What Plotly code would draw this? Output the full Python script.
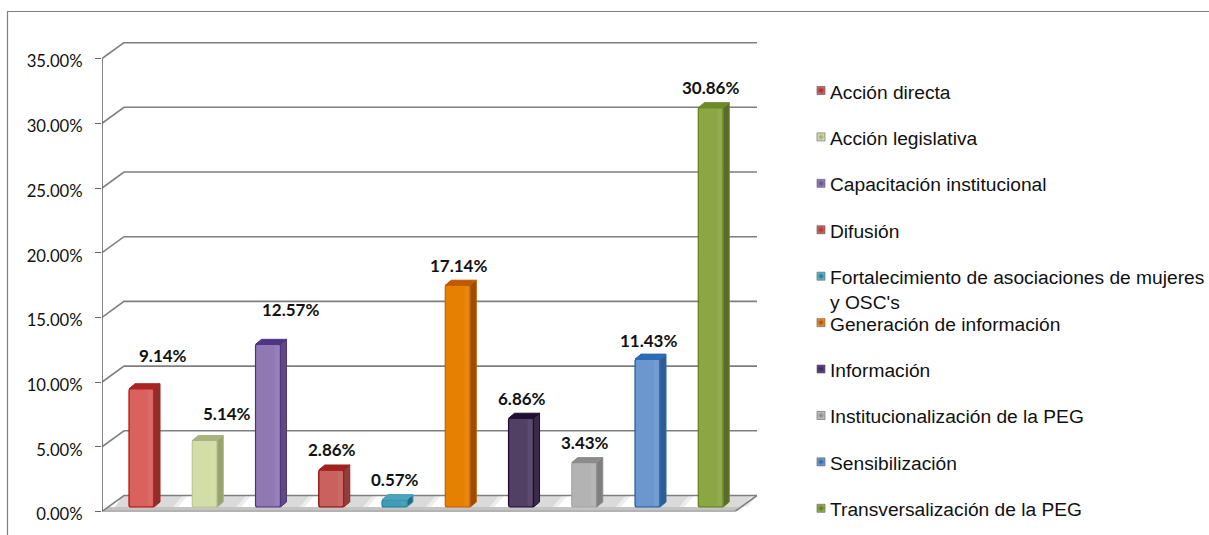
import plotly.graph_objects as go

categories = ["Acción directa", "Acción legislativa", "Capacitación institucional", "Difusión",
              "Fortalecimiento de asociaciones de mujeres<br>y OSC's", "Generación de información",
              "Información", "Institucionalización de la PEG", "Sensibilización",
              "Transversalización de la PEG"]
values = [9.14, 5.14, 12.57, 2.86, 0.57, 17.14, 6.86, 3.43, 11.43, 30.86]
tick_values = [0, 5, 10, 15, 20, 25, 30, 35]

front_colors = ["#D9625F", "#D3DDA8", "#9079B3", "#C9615F", "#3F9DB8", "#E68000", "#514063", "#B3B3B3", "#6C97CE", "#8CA646"]
edge_colors = ["#C00000", "#BBC78C", "#4B2F8E", "#8E0000", "#1F7F9A", "#C85F00", "#1F0A33", "#A6A6A6", "#1E5AA8", "#5F7E12"]
side_colors = ["#8F2E2C", "#98A36E", "#5F4A7C", "#8E3E3B", "#276A80", "#994D00", "#3A2A4B", "#7F7F7F", "#305D91", "#5A6C2B"]
top_colors = ["#A92523", "#A8B47E", "#4F3585", "#9E2320", "#4BA3BC", "#C05A00", "#1F0F30", "#8C8C8C", "#2A6CB5", "#6E8A28"]
swatch_colors = ["#E06060", "#DDE8B8", "#9A80C8", "#D86060", "#60C0D8", "#F89030", "#604090", "#C8C8C8", "#70A0E0", "#98B848"]
label_dx = [21.5, 22, 22, 1, 0, 1, 1, 1, 1, 0]
label_dy = [33.7, 27, 35, 20, 20, 20, 20, 20, 19, 20]

W, H = 1209, 535
PX_L, PX_R, PX_T, PX_B = 102, 757, 42, 511.5
SLOT = 63.25
PX_PER = 12.94
wall_dx, wall_dy = 22 / SLOT, 16 / PX_PER          # oblique offset of the back wall
x_max = (PX_R - PX_L) / SLOT
y_max = (PX_B - PX_T) / PX_PER
bar_w = 25 / SLOT
bar_base = 4.5 / PX_PER
depth_x, depth_y = 6 / SLOT, 5 / PX_PER
bar_x = [i + 0.5 + 7.9 / SLOT for i in range(len(values))]

fig = go.Figure()
shapes = []
GRID = "#7F7F7F"

def poly(pts):
    return "M" + "L".join(f"{a},{b}" for a, b in pts) + "Z"

# floor
shapes.append(dict(type="path", layer="below", xref="x", yref="y", line=dict(width=0), fillcolor="#DADADA",
                   path=poly([(0, 0), (wall_dx, wall_dy), (x_max, wall_dy), (x_max - wall_dx, 0)])))
# light diagonal streaks across the floor, between the bars
slant = 10 / SLOT
for x in bar_x:
    xr = x + bar_w / 2
    for a, b, col in [(0.30, 0.72, "#EDEDED"), (0.38, 0.64, "#FFFFFF")]:
        shapes.append(dict(type="path", layer="below", xref="x", yref="y", line=dict(width=0), fillcolor=col,
                           path=poly([(xr + a, bar_base), (xr + a + slant, wall_dy),
                                      (xr + b + slant, wall_dy), (xr + b, bar_base)])))
shapes.append(dict(type="path", layer="below", xref="x", yref="y", line=dict(width=0), fillcolor="#FFFFFF",
                   path=poly([(5 / SLOT, bar_base), (wall_dx, wall_dy), (bar_x[0] - bar_w / 2 - 6 / SLOT, wall_dy),
                              (bar_x[0] - bar_w / 2 - 14 / SLOT, bar_base)])))
shapes.append(dict(type="path", layer="below", xref="x", yref="y", line=dict(width=0), fillcolor="#C4C4C4",
                   path=poly([(2 / SLOT, 0), (x_max - wall_dx, 0), (x_max - wall_dx + 5 / SLOT, bar_base), (7 / SLOT, bar_base)])))
# grid lines on the side and back walls
for t in tick_values:
    shapes.append(dict(type="path", layer="below", xref="x", yref="y", line=dict(color=GRID, width=1.6),
                       path=f"M0,{t}L{wall_dx},{t + wall_dy}L{x_max},{t + wall_dy}"))
# floor outline and axis
shapes.append(dict(type="path", layer="below", xref="x", yref="y", line=dict(color=GRID, width=1.6),
                   path=f"M0,0L{x_max - wall_dx},0L{x_max},{wall_dy}"))
shapes.append(dict(type="line", layer="below", xref="x", yref="y", x0=0, x1=0, y0=0, y1=tick_values[-1],
                   line=dict(color="#666666", width=1.6)))
# outer frame
shapes.append(dict(type="path", layer="below", xref="x2", yref="y2", line=dict(color="#808080", width=1.2),
                   path=f"M7.5,{H}L7.5,11.5L{W},11.5"))

# bar fronts
fig.add_trace(go.Bar(x=bar_x, y=values, base=[bar_base] * len(values), width=bar_w,
                     marker=dict(color=front_colors, line=dict(color=edge_colors, width=1.2), cornerradius=2),
                     showlegend=False, hoverinfo="skip"))
# bar sides and tops
for x, v, sc, tc in zip(bar_x, values, side_colors, top_colors):
    xr, xl = x + bar_w / 2, x - bar_w / 2
    y0, y1 = bar_base, bar_base + v
    # soft highlight along the right part of the front face
    fig.add_trace(go.Scatter(x=[xr - 6 / SLOT, xr - 1.5 / SLOT, xr - 1.5 / SLOT, xr - 6 / SLOT, xr - 6 / SLOT],
                             y=[y0 + 0.1, y0 + 0.1, y1 - 0.1, y1 - 0.1, y0 + 0.1],
                             mode="lines", fill="toself", fillcolor="rgba(255,255,255,0.06)", line=dict(width=0),
                             showlegend=False, hoverinfo="skip"))
    fig.add_trace(go.Scatter(x=[xr, xr + depth_x, xr + depth_x, xr, xr],
                             y=[y0, y0 + depth_y, y1 + depth_y, y1, y0],
                             mode="lines", fill="toself", fillcolor=sc, line=dict(color=tc, width=1),
                             showlegend=False, hoverinfo="skip"))
    fig.add_trace(go.Scatter(x=[xl, xl + depth_x, xr + depth_x, xr, xl],
                             y=[y1, y1 + depth_y, y1 + depth_y, y1, y1],
                             mode="lines", fill="toself", fillcolor=tc, line=dict(color=tc, width=1),
                             showlegend=False, hoverinfo="skip"))

annotations = []
for x, v, dx, dy in zip(bar_x, values, label_dx, label_dy):
    annotations.append(dict(x=x, y=v + bar_base, xref="x", yref="y", text=f"<b>{v:.2f}%</b>", showarrow=False,
                            xanchor="center", yanchor="middle", xshift=dx, yshift=dy,
                            font=dict(family="Lato", size=17, color="#111111")))

# legend column
rows = [90.5 + 46.42 * i for i in range(len(categories))]
fig.add_trace(go.Scatter(x=[821] * len(rows), y=rows, xaxis="x2", yaxis="y2", mode="markers",
                         marker=dict(symbol="square", size=8, color=swatch_colors,
                                     gradient=dict(type="radial", color=side_colors),
                                     line=dict(color="#555555", width=0.6)),
                         showlegend=False, hoverinfo="skip"))
for name, r in zip(categories, rows):
    annotations.append(dict(x=828, y=r - 11, xref="x2", yref="y2", text=name, showarrow=False, align="left",
                            xanchor="left", yanchor="top",
                            font=dict(family="Liberation Sans", size=19.2, color="#111111")))

fig.update_layout(
    width=W, height=H, margin=dict(l=0, r=0, t=0, b=0, autoexpand=False), paper_bgcolor="white", plot_bgcolor="rgba(0,0,0,0)",
    showlegend=False, shapes=shapes, annotations=annotations,
    xaxis=dict(domain=[PX_L / W, PX_R / W], range=[0, x_max], visible=False, anchor="y"),
    yaxis=dict(domain=[1 - PX_B / H, 1 - PX_T / H], range=[0, y_max], showgrid=False, zeroline=False, anchor="x",
               tickvals=tick_values, ticktext=[f"{t:.2f}%" for t in tick_values], ticks="outside", ticklen=6,
               tickcolor="#666666", tickwidth=1.4, showline=False, ticklabelstandoff=9, ticklabelshift=3,
               tickfont=dict(family="Lato", size=16.7, color="#111111")),
    xaxis2=dict(domain=[0, 1], range=[0, W], visible=False, anchor="y2"),
    yaxis2=dict(domain=[0, 1], range=[H, 0], visible=False, anchor="x2"),
)
fig.write_html("out.html", config=dict(displayModeBar=False),
               post_script="document.body.style.margin='0';document.body.style.overflow='hidden';")
